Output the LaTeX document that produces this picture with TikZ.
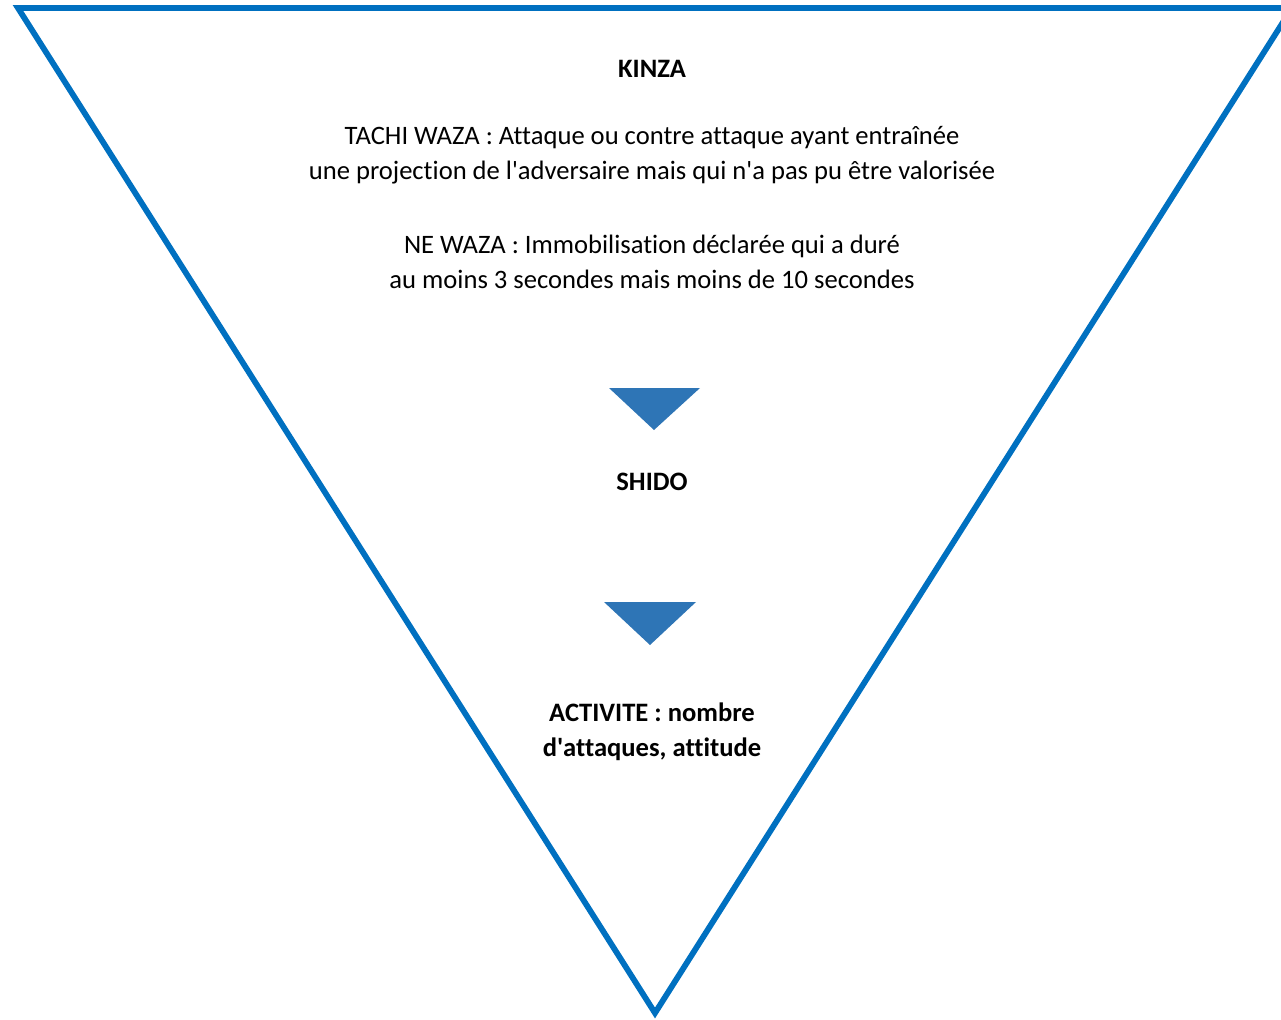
\documentclass[tikz,border=0pt]{standalone}
\usepackage{fontspec}
\setmainfont{Carlito}[Ligatures={NoCommon}]
\definecolor{outline}{HTML}{0070C0}
\definecolor{arrowfill}{HTML}{2E75B6}
\newcommand{\sq}{\textquotesingle}
\begin{document}
\begin{tikzpicture}[x=0.5pt,y=-0.5pt,
  lbl/.style={font=\fontsize{13.3}{17.5}\selectfont, align=center, inner sep=0pt, text=black},
  blbl/.style={lbl, font=\fontsize{13.3}{17.5}\selectfont\bfseries},
  pointer/.style={fill=arrowfill, draw=none}]
\useasboundingbox (0,0) rectangle (1281,1019);
\begin{scope}
\clip (0,0) rectangle (1281,1019);
\coordinate (tl) at (18,8);
\coordinate (tr) at (1292,8);
\coordinate (apex) at (655,1013);
\draw[outline, line width=2.9pt, line join=miter] (tl) -- (tr) -- (apex) -- cycle;
\end{scope}
\node[blbl] (kinza) at (652,69) {KINZA};
\node[lbl] (tachi) at (652,155.5) {TACHI WAZA : Attaque ou contre attaque ayant entraînée\\une projection de l\sq adversaire mais qui n\sq a pas pu être valorisée};
\node[lbl] (newaza) at (652,261.5) {NE WAZA : Immobilisation déclarée qui a duré\\au moins 3 secondes mais moins de 10 secondes};
\path[pointer] (609,388) -- (700,388) -- (654,430) -- cycle;
\node[blbl] (shido) at (652,482) {SHIDO};
\path[pointer] (604,602) -- (696,602) -- (650,645) -- cycle;
\node[blbl] (activite) at (652,731.5) {ACTIVITE : nombre\\d\sq attaques, attitude};
\end{tikzpicture}
\end{document}
